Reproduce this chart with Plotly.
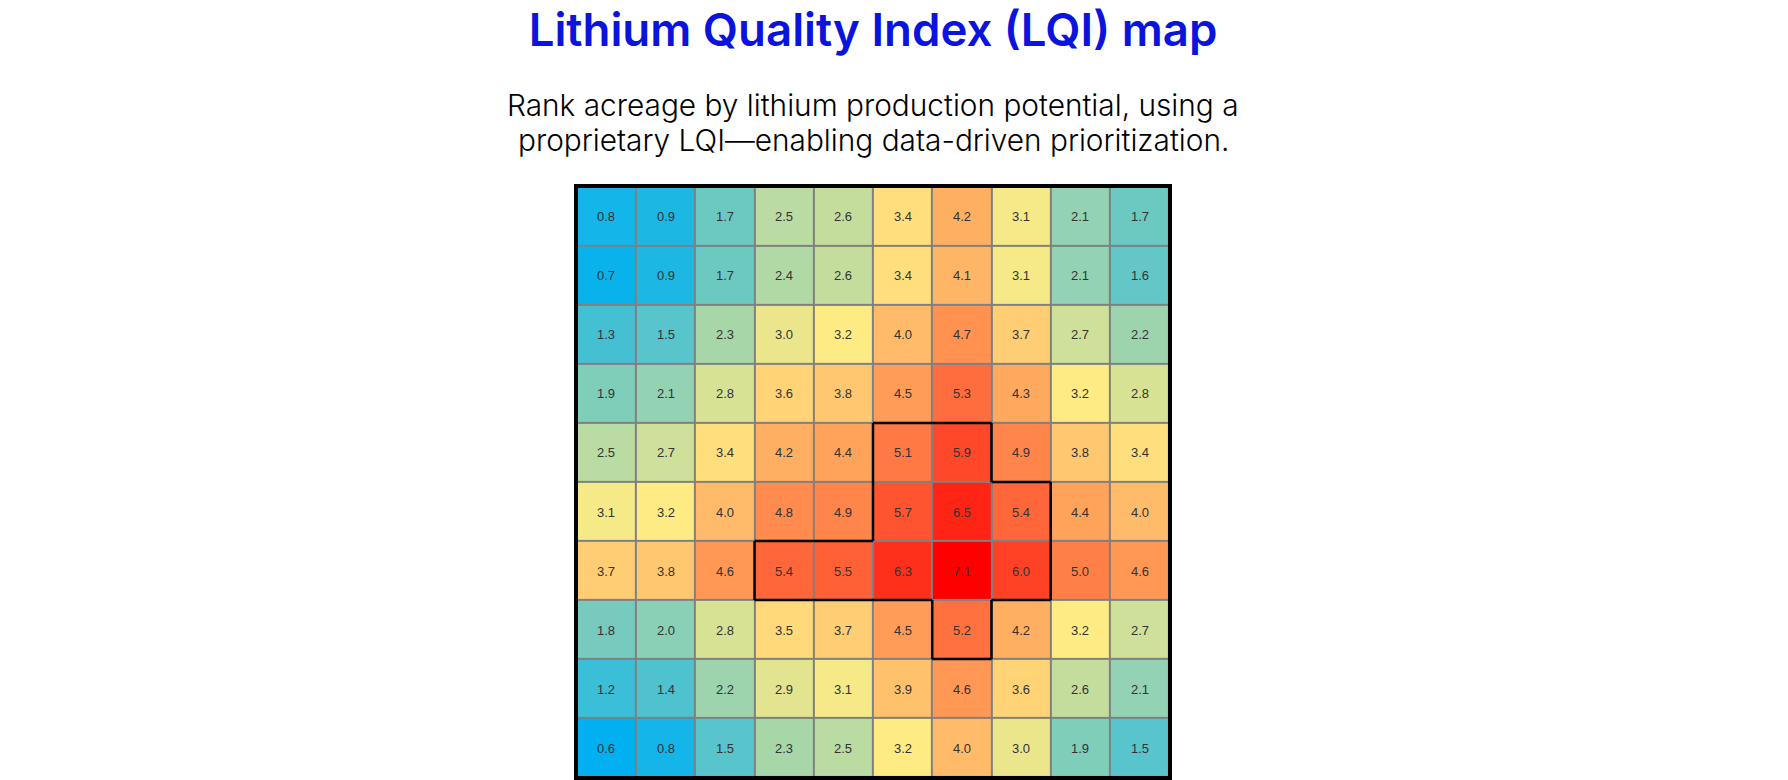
import plotly.graph_objects as go

title = "Lithium Quality Index (LQI) map"
subtitle_lines = [
    "Rank acreage by lithium production potential, using a",
    "proprietary LQI—enabling data-driven prioritization.",
]

# LQI per cell, top row first
row_0 = [0.8, 0.9, 1.7, 2.5, 2.6, 3.4, 4.2, 3.1, 2.1, 1.7]
row_1 = [0.7, 0.9, 1.7, 2.4, 2.6, 3.4, 4.1, 3.1, 2.1, 1.6]
row_2 = [1.3, 1.5, 2.3, 3.0, 3.2, 4.0, 4.7, 3.7, 2.7, 2.2]
row_3 = [1.9, 2.1, 2.8, 3.6, 3.8, 4.5, 5.3, 4.3, 3.2, 2.8]
row_4 = [2.5, 2.7, 3.4, 4.2, 4.4, 5.1, 5.9, 4.9, 3.8, 3.4]
row_5 = [3.1, 3.2, 4.0, 4.8, 4.9, 5.7, 6.5, 5.4, 4.4, 4.0]
row_6 = [3.7, 3.8, 4.6, 5.4, 5.5, 6.3, 7.1, 6.0, 5.0, 4.6]
row_7 = [1.8, 2.0, 2.8, 3.5, 3.7, 4.5, 5.2, 4.2, 3.2, 2.7]
row_8 = [1.2, 1.4, 2.2, 2.9, 3.1, 3.9, 4.6, 3.6, 2.6, 2.1]
row_9 = [0.6, 0.8, 1.5, 2.3, 2.5, 3.2, 4.0, 3.0, 1.9, 1.5]
z = [row_0, row_1, row_2, row_3, row_4, row_5, row_6, row_7, row_8, row_9]

# cells inside the black outline (row, column)
sweet_spot = [(4, 5), (4, 6), (5, 5), (5, 6), (5, 7), (6, 3), (6, 4), (6, 5), (6, 6), (6, 7), (7, 6)]

fig = go.Figure(go.Heatmap(
    z=z,
    zmin=0.6,
    zmax=7.1,
    colorscale=[[0, "#00B0F0"], [0.4, "#FFEB84"], [1, "#FF0000"]],
    showscale=False,
    xgap=2,
    ygap=2,
    texttemplate="%{z:.1f}",
    textfont=dict(family="Liberation Sans", size=13, color="#333333"),
    hoverinfo="skip",
))

# outline only on sides that have no highlighted neighbour
for r, c in sweet_spot:
    sides = [
        ((r - 1, c), (c - 0.5, r - 0.5, c + 0.5, r - 0.5)),
        ((r + 1, c), (c - 0.5, r + 0.5, c + 0.5, r + 0.5)),
        ((r, c - 1), (c - 0.5, r - 0.5, c - 0.5, r + 0.5)),
        ((r, c + 1), (c + 0.5, r - 0.5, c + 0.5, r + 0.5)),
    ]
    for neighbour, (x0, y0, x1, y1) in sides:
        if neighbour not in sweet_spot:
            fig.add_shape(type="line", x0=x0, y0=y0, x1=x1, y1=y1,
                          line=dict(color="black", width=2.5), layer="above")

# two annotations so the line spacing can be set by hand
for line, shift in zip(subtitle_lines, [103, 67.6]):
    fig.add_annotation(text=line, xref="paper", yref="paper", x=0.5, y=1, yshift=shift, yanchor="top",
                       xanchor="center", showarrow=False,
                       font=dict(family="Inter", size=29.8, color="black", weight=300))

fig.update_layout(
    width=1788,
    height=780,
    margin=dict(l=578, r=620, t=188, b=4),
    paper_bgcolor="white",
    plot_bgcolor="#808080",
    title=dict(text=title, x=0.5, xref="paper", xanchor="center", y=0.9815, yanchor="top",
               font=dict(family="Inter", size=45.6, color="#0A14DC", weight=600)),
)
fig.update_xaxes(range=[-0.48, 9.48], showticklabels=False, ticks="", showgrid=False, zeroline=False,
                 showline=True, mirror=True, linewidth=4, linecolor="black")
fig.update_yaxes(range=[9.48, -0.48], showticklabels=False, ticks="", showgrid=False, zeroline=False,
                 showline=True, mirror=True, linewidth=4, linecolor="black")

fig.write_html("out.html", config=dict(displayModeBar=False), post_script="document.body.style.margin='0';")
